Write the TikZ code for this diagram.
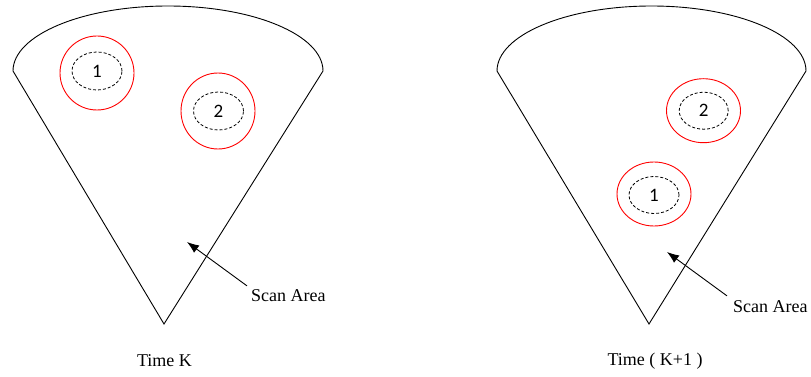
\documentclass[tikz,border=0pt]{standalone}
\usepackage{fontspec}
\setmainfont{Liberation Serif}
\newfontfamily\lblfont{Carlito}
\usetikzlibrary{shapes.geometric,arrows.meta}
\begin{document}
\begin{tikzpicture}[x=1pt,y=-1pt,
  sector/.style={draw=black,line width=0.9pt},
  track/.style={draw=red,line width=0.9pt,ellipse,inner sep=0pt},
  gate/.style={draw=black,line width=0.8pt,dash pattern=on 3pt off 2pt,ellipse,inner sep=0pt,font=\lblfont\fontsize{19}{19}\selectfont,minimum width=50pt,minimum height=38pt},
  caption/.style={font=\fontsize{18}{18}\selectfont,inner sep=0pt},
  pointer/.style={draw=black,line width=0.9pt,-{Latex[length=12pt,width=9pt]}}]
\useasboundingbox (0,0) rectangle (811,377);
% ---- Time K ----
\coordinate (La) at (164,324);
\coordinate (Ll) at (13,71);
\coordinate (Lr) at (323,71);
\draw[sector] (Lr) -- (La) -- (Ll) arc[start angle=180,end angle=0,x radius=155pt,y radius=65pt];
\node[track,minimum width=74pt,minimum height=74pt] (Lt1) at (97,73) {};
\node[gate] (Lg1) at (97,71) {1};
\node[track,minimum width=74pt,minimum height=76pt] (Lt2) at (218,111) {};
\node[gate] (Lg2) at (218.5,111) {2};
\node[caption,anchor=base west] (Ls) at (251,301) {Scan Area};
\coordinate (Lp) at (187,242);
\draw[pointer] ([shift={(-4,-3)}]Ls.north west) -- (Lp);
\node[caption,anchor=base] (Lc) at (164.5,366) {Time K};
% ---- Time (K+1) ----
\coordinate (Ra) at (649,324);
\coordinate (Rl) at (497,71);
\coordinate (Rr) at (806,71);
\draw[sector] (Rr) -- (Ra) -- (Rl) arc[start angle=180,end angle=0,x radius=154.5pt,y radius=65pt];
\node[track,minimum width=74pt,minimum height=64pt] (Rt2) at (703.5,110.7) {};
\node[gate,minimum width=49pt,minimum height=37pt] (Rg2) at (703.7,110.7) {2};
\node[track,minimum width=74pt,minimum height=64pt] (Rt1) at (654,194) {};
\node[gate,minimum width=50pt,minimum height=37pt] (Rg1) at (654,195) {1};
\node[caption,anchor=base west] (Rs) at (733,312) {Scan Area};
\coordinate (Rp) at (667,252);
\draw[pointer] ([shift={(-6,-4)}]Rs.north west) -- (Rp);
\node[caption,anchor=base] (Rc) at (655,365) {Time ( K+1 )};
\end{tikzpicture}
\end{document}
